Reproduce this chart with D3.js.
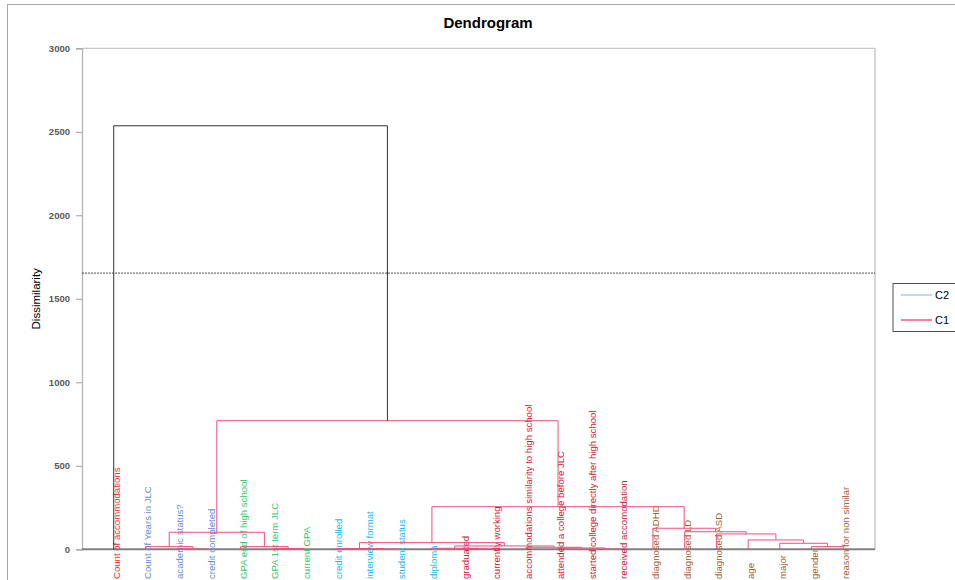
<!DOCTYPE html>
<html>
<head>
<meta charset="utf-8">
<script src="https://cdn.jsdelivr.net/npm/d3@7"></script>
<style>
  html, body { margin: 0; padding: 0; background: #fff; }
  svg { display: block; font-family: "Liberation Sans", Arial, sans-serif; }
</style>
</head>
<body>
<svg id="chart" width="955" height="580"></svg>
<script>
// ---- DATA ----
const leafLabels = [
  "Count of accommodations", "Count of Years in JLC", "academic status?", "credit completed",
  "GPA end of high school", "GPA 1st term JLC", "current GPA",
  "credit enrolled", "interview format", "student status", "diploma",
  "graduated", "currently working", "accommodations similarity to high school",
  "attended a college before JLC", "started college directly after high school",
  "received accomodation",
  "diagnosed ADHD", "diagnosed LD", "diagnosed ASD", "age", "major", "gender",
  "reason for non similar"
];
// label colour group of each leaf
const leafGroups = [
  "g0", "g1", "g1", "g1",
  "g2", "g2", "g2",
  "g3", "g3", "g3", "g3",
  "g4", "g4", "g4", "g4", "g4", "g4",
  "g5", "g5", "g5", "g5", "g5", "g5", "g5"
];
// merges: [left node id, right node id, dissimilarity]; leaves are 0..23, merge k gets id 24+k
const mergeLeft   = [2, 1, 5, 4, 25, 8, 7, 11, 10, 15, 14, 13, 32, 30, 22, 21, 20, 19, 18, 17, 37, 28, 0];
const mergeRight  = [3, 24, 6, 26, 27, 9, 29, 12, 31, 16, 33, 34, 35, 36, 23, 38, 39, 40, 41, 42, 43, 44, 45];
const mergeHeight = [2, 16, 4, 16, 102, 1, 5, 3, 6, 2, 8, 12, 20, 40, 16, 36, 56, 92, 105, 126, 255, 770, 2536];
const truncation = 1654;
const yTicks = [0, 500, 1000, 1500, 2000, 2500, 3000];
const legendNames = ["C2", "C1"];

// ---- STYLES ----
const groupColor = { g0: "#f02c2c", g1: "#6a8ad8", g2: "#2ec866", g3: "#22b6ea", g4: "#cc1838", g5: "#a2602e" };
const legendColor = { C2: "#a6c6dc", C1: "#f0406c" };
const c1Color = "#f0507c";
const rootColor = "#333333";

const svg = d3.select("#chart");
const plot = { left: 82, right: 875, top: 48.3, bottom: 549.3 };

// outer frame
svg.append("rect").attr("x", 7.5).attr("y", 4.5).attr("width", 1000).attr("height", 700)
  .attr("fill", "none").attr("stroke", "#a6a6a6").attr("stroke-width", 1);

// title
svg.append("text").attr("x", 488).attr("y", 28).attr("text-anchor", "middle")
  .attr("font-size", 15).attr("font-weight", "bold").attr("fill", "#000").text("Dendrogram");

const x = d3.scalePoint().domain(d3.range(leafLabels.length)).range([plot.left, plot.right]).padding(1);
const y = d3.scaleLinear().domain([0, 3000]).range([plot.bottom, plot.top]);

// plot area border (top + right)
svg.append("line").attr("x1", plot.left).attr("x2", plot.right).attr("y1", plot.top).attr("y2", plot.top)
  .attr("stroke", "#c8c8c8").attr("stroke-width", 1.2);
svg.append("line").attr("x1", plot.right).attr("x2", plot.right).attr("y1", plot.top).attr("y2", plot.bottom)
  .attr("stroke", "#c8c8c8").attr("stroke-width", 1.5);

// y axis
const yAxis = svg.append("g").attr("transform", `translate(${plot.left},0)`)
  .call(d3.axisLeft(y).tickValues(yTicks).tickSize(6).tickPadding(6).tickFormat(d3.format("d")));
yAxis.select(".domain").attr("stroke", "#b0b0b0").attr("stroke-width", 1.2);
yAxis.selectAll(".tick line").attr("stroke", "#a0a0a0");
yAxis.selectAll(".tick text").attr("fill", "#595959").attr("font-size", 9.5).attr("font-weight", "bold")
  .attr("font-family", "'Liberation Sans', Arial, sans-serif");

// y axis title
svg.append("text").attr("transform", `translate(40,${(plot.top + plot.bottom) / 2}) rotate(-90)`)
  .attr("text-anchor", "middle").attr("font-size", 11.5).attr("fill", "#000").text("Dissimilarity");

// truncation line
svg.append("line").attr("x1", plot.left).attr("x2", plot.right).attr("y1", y(truncation)).attr("y2", y(truncation))
  .attr("stroke", "#222").attr("stroke-width", 0.8).attr("stroke-dasharray", "2,1");

// bottom axis
svg.append("line").attr("x1", plot.left).attr("x2", plot.right).attr("y1", plot.bottom).attr("y2", plot.bottom)
  .attr("stroke", "#808080").attr("stroke-width", 2);

// leaf labels
svg.append("g").selectAll("text").data(leafLabels).join("text")
  .attr("transform", (d, i) => `translate(${x(i) + 6},579) rotate(-90)`)
  .attr("text-anchor", "start")
  .attr("font-size", 9.6)
  .attr("fill", (d, i) => groupColor[leafGroups[i]])
  .text(d => d);

// compute node positions
const nLeaves = leafLabels.length;
const nodeX = [], nodeH = [];
for (let i = 0; i < nLeaves; i++) { nodeX[i] = x(i); nodeH[i] = 0; }
mergeHeight.forEach((h, k) => {
  const id = nLeaves + k;
  nodeX[id] = (nodeX[mergeLeft[k]] + nodeX[mergeRight[k]]) / 2;
  nodeH[id] = h;
});
const rootK = mergeHeight.length - 1;

const links = svg.append("g").attr("fill", "none");
mergeHeight.forEach((h, k) => {
  const l = mergeLeft[k], r = mergeRight[k];
  const col = k === rootK ? rootColor : c1Color;
  const yy = y(h);
  const p = `M${nodeX[l]},${y(nodeH[l])}V${yy}H${nodeX[r]}V${y(nodeH[r])}`;
  links.append("path").attr("d", p).attr("stroke", col).attr("stroke-width", 1);
});

// legend
const lg = svg.append("g");
lg.append("rect").attr("x", 893).attr("y", 283.5).attr("width", 80).attr("height", 48)
  .attr("fill", "#fff").attr("stroke", "#505050").attr("stroke-width", 1);
legendNames.forEach((nm, i) => {
  const yy = 295 + i * 25;
  lg.append("line").attr("x1", 901).attr("x2", 932).attr("y1", yy).attr("y2", yy)
    .attr("stroke", legendColor[nm]).attr("stroke-width", 1.3);
  lg.append("text").attr("x", 935).attr("y", yy + 4).attr("font-size", 11).attr("fill", "#000").text(nm);
});
</script>
</body>
</html>
